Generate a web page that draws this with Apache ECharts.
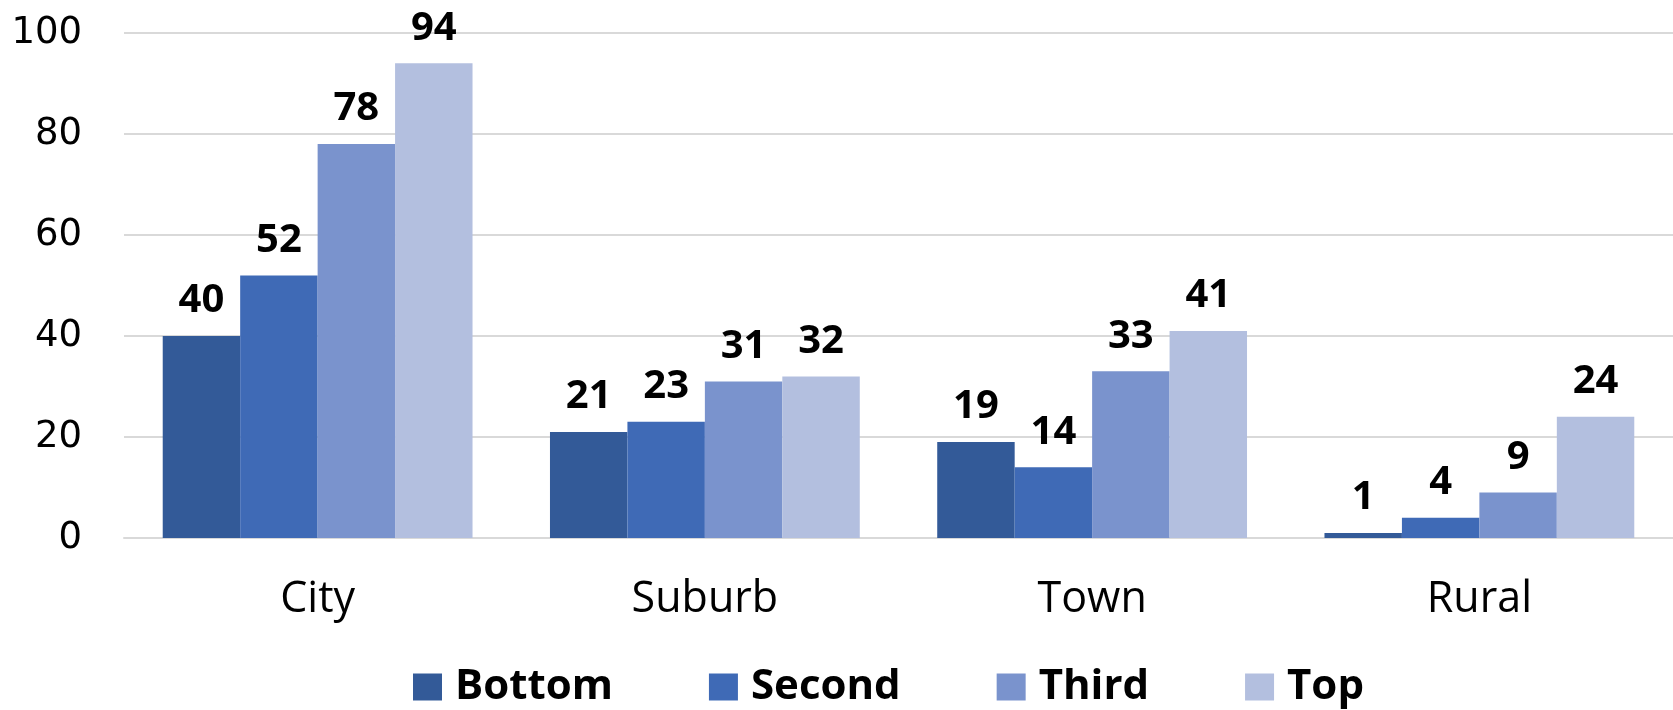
<!DOCTYPE html>
<html>
<head>
<meta charset="utf-8">
<script src="https://cdn.jsdelivr.net/npm/echarts@6/dist/echarts.min.js"></script>
<style>
  html, body { margin: 0; padding: 0; background: #fff; }
  #chart { width: 1673px; height: 710px; }
</style>
</head>
<body>
<div id="chart"></div>
<script>
const categories = ['City', 'Suburb', 'Town', 'Rural'];
const seriesNames = ['Bottom', 'Second', 'Third', 'Top'];
const bottomValues = [40, 21, 19, 1];
const secondValues = [52, 23, 14, 4];
const thirdValues = [78, 31, 33, 9];
const topValues = [94, 32, 41, 24];
const colors = ['#335a98', '#3f6ab6', '#7a93cd', '#b3bfdf'];

const chart = echarts.init(document.getElementById('chart'));
const values = [bottomValues, secondValues, thirdValues, topValues];

chart.setOption({
    animation: false,
    grid: { left: 124, right: 0, top: 33, bottom: 172 },
    legend: {
        top: 666,
        left: 413,
        padding: 0,
        itemWidth: 29,
        itemHeight: 27,
        itemGap: 96,
        icon: 'rect',
        textStyle: { fontFamily: 'Open Sans', fontWeight: 'bold', fontSize: 42, color: '#000', padding: [0, 0, 0, 8] },
        data: seriesNames
    },
    xAxis: {
        type: 'category',
        data: categories,
        axisLine: { show: true, lineStyle: { color: '#d9d9d9', width: 2 } },
        axisTick: { show: false },
        axisLabel: { fontFamily: 'Open Sans', fontSize: 43, color: '#000', margin: 40 }
    },
    yAxis: {
        type: 'value',
        min: 0,
        max: 100,
        interval: 20,
        axisLine: { show: false },
        axisTick: { show: false },
        splitLine: { lineStyle: { color: '#d9d9d9', width: 2 } },
        axisLabel: { fontFamily: 'DejaVu Sans', fontSize: 37, color: '#000', margin: 42 }
    },
    series: seriesNames.map((name, i) => ({
        name: name,
        type: 'bar',
        data: values[i],
        barGap: '0%',
        barCategoryGap: '20%',
        itemStyle: { color: colors[i] },
        label: {
            show: true,
            position: 'top',
            distance: 15,
            fontFamily: 'Open Sans',
            fontWeight: 'bold',
            fontSize: 40,
            color: '#000'
        }
    }))
});
</script>
</body>
</html>
